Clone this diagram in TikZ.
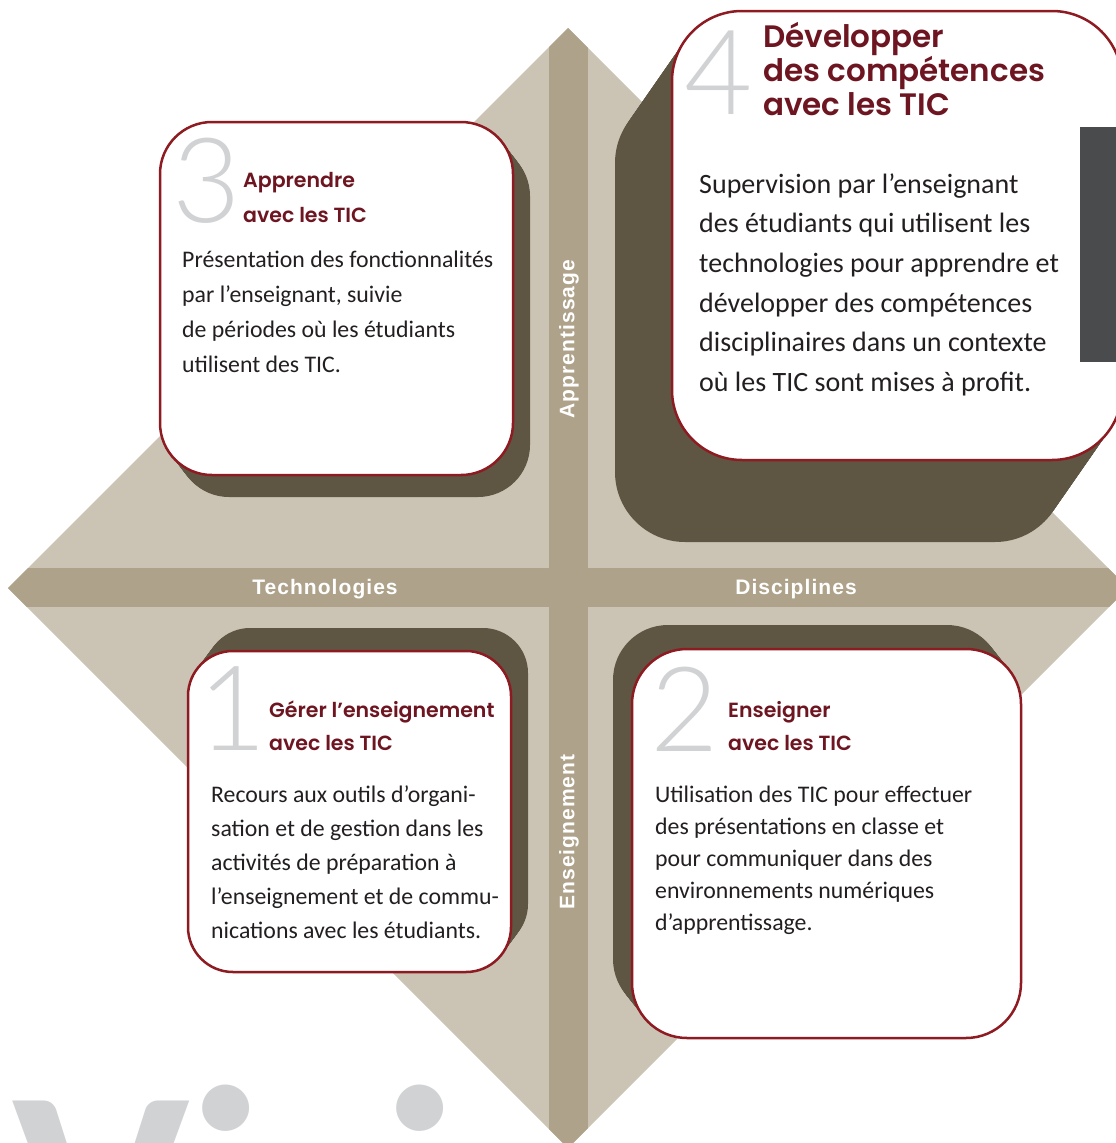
\documentclass[tikz,border=0pt]{standalone}
\usepackage{fontspec}
\setmainfont{Carlito}
\newfontfamily\titlefont{Poppins}[UprightFont={* SemiBold}]
\newfontfamily\numfont{Lato}[UprightFont={* Light}]
\newfontfamily\bandfont[LetterSpace=5]{Liberation Sans}
\usetikzlibrary{positioning}
\definecolor{diamondtan}{HTML}{CBC3B4}
\definecolor{bandtan}{HTML}{AEA28A}
\definecolor{shadowbrown}{HTML}{5E5643}
\definecolor{cardred}{HTML}{8E1B21}
\definecolor{titlered}{HTML}{6D1520}
\definecolor{numgray}{HTML}{D1D2D4}
\definecolor{bodyblack}{HTML}{231F20}
\definecolor{sidegray}{HTML}{4A4B4D}
\tikzset{
  cardbox/.style={draw=cardred,line width=2.5pt,fill=white},
  shadowbox/.style={fill=shadowbrown},
  bignum/.style={anchor=base west,inner sep=0pt,text=numgray,font=\numfont\fontsize{118}{118}\selectfont},
  cardtitle/.style={anchor=base west,inner sep=0pt,text=titlered,font=\titlefont\fontsize{20.5}{20.5}\selectfont},
  bigtitle/.style={cardtitle,font=\titlefont\fontsize{31}{31}\selectfont},
  cardbody/.style={anchor=base west,inner sep=0pt,text=bodyblack,font=\fontsize{23.8}{23.8}\selectfont},
  bigbody/.style={cardbody,font=\fontsize{28}{28}\selectfont},
  bandlabel/.style={text=white,inner sep=0pt,font=\bandfont\bfseries\fontsize{21}{21}\selectfont},
}

\begin{document}
\begin{tikzpicture}[x=1pt,y=-1pt]%
\clip (0,0) rectangle (1116,1143);%%
%%MOT DU FOND
\node[anchor=base west,inner sep=0pt,text=numgray,font=\bfseries\fontsize{300}{300}\selectfont] (vision) at (12,1295) {Vision};%%
%%LOSANGE ET BANDES
\fill[diamondtan] (568,28) -- (1128,588) -- (568,1148) -- (8,588) -- cycle;%%
\begin{scope}
\clip (568,28) -- (1128,588) -- (568,1148) -- (8,588) -- cycle;%%
\fill[bandtan] (0,568) rectangle (1128,607);%%
\fill[bandtan] (549,0) rectangle (588,1148);%%
\end{scope}
\node[bandlabel] (techno) at (325,589) {Technologies};%%
\node[bandlabel] (discip) at (796,589) {Disciplines};%%
\node[bandlabel,rotate=90] (appr) at (569,339) {Apprentissage};%%
\node[bandlabel,rotate=90] (ensg) at (569,832) {Enseignement};%%
%%OMBRES
\foreach \f in {1,0.95,...,0}
  \fill[shadowbox,shift={({17*\f},{22*\f})},rounded corners=52pt] (160,122) rectangle (513,475);%%
\foreach \f in {1,0.97,...,0}
  \fill[shadowbox,shift={({-57*\f},{82*\f})},rounded corners=70pt] (672,11) rectangle (1122,460);%%
\foreach \f in {1,0.95,...,0}
  \fill[shadowbox,shift={({17*\f},{-23*\f})},rounded corners=45pt] (188,651) rectangle (511,972);%%
\foreach \f in {1,0.95,...,0}
  \fill[shadowbox,shift={({-19*\f},{-24*\f})},rounded corners=55pt] (632,649) rectangle (1021,1038);%%
%%CARTES
\draw[cardbox,rounded corners=52pt] (160,122) rectangle (513,475);%%
\draw[cardbox,rounded corners=70pt] (672,11) rectangle (1122,460);%%
\draw[cardbox,rounded corners=45pt] (188,651) rectangle (511,972);%%
\draw[cardbox,rounded corners=55pt] (632,649) rectangle (1021,1038);%%
%%CARTE 3
\node[bignum] (n3) at (172,222) {3};%%
\node[cardtitle] (t3a) at (243,187) {Apprendre};%%
\node[cardtitle] (t3b) at (243,222) {avec les TIC};%%
\foreach \ln [count=\i] in {Présentation des fonctionnalités,{par l’enseignant, suivie},de périodes où les étudiants,utilisent des TIC.}
  \node[cardbody] (b3-\i) at (182,{267+35*(\i-1)}) {\ln};%%
%%CARTE 4
\node[bignum] (n4) at (684,114) {4};%%
\node[bigtitle] (t4a) at (763,47) {Développer};%%
\node[bigtitle] (t4b) at (763,81) {des compétences};%%
\node[bigtitle] (t4c) at (763,115) {avec les TIC};%%
\foreach \ln [count=\i] in {Supervision par l’enseignant,des étudiants qui utilisent les,technologies pour apprendre et,développer des compétences,disciplinaires dans un contexte,où les TIC sont mises à profit.}
  \node[bigbody] (b4-\i) at (699,{193+39.7*(\i-1)}) {\ln};%%
%%CARTE 1
\node[bignum] (n1) at (198,750) {1};%%
\node[cardtitle] (t1a) at (269,717) {Gérer l’enseignement};%%
\node[cardtitle] (t1b) at (269,750) {avec les TIC};%%
\foreach \ln [count=\i] in {Recours aux outils d’organi-,sation et de gestion dans les,activités de préparation à,l’enseignement et de commu-,nications avec les étudiants.}
  \node[cardbody] (b1-\i) at (211,{802+34*(\i-1)}) {\ln};%%
%%CARTE 2
\node[bignum] (n2) at (650,751) {2};%%
\node[cardtitle] (t2a) at (728,717) {Enseigner};%%
\node[cardtitle] (t2b) at (728,750) {avec les TIC};%%
\foreach \ln [count=\i] in {Utilisation des TIC pour effectuer,des présentations en classe et,pour communiquer dans des,environnements numériques,d’apprentissage.}
  \node[cardbody] (b2-\i) at (655,{802+32*(\i-1)}) {\ln};%%
%%BANDE LATERALE
\fill[sidegray] (1080,127) rectangle (1116,362);%%
\end{tikzpicture}
\end{document}
